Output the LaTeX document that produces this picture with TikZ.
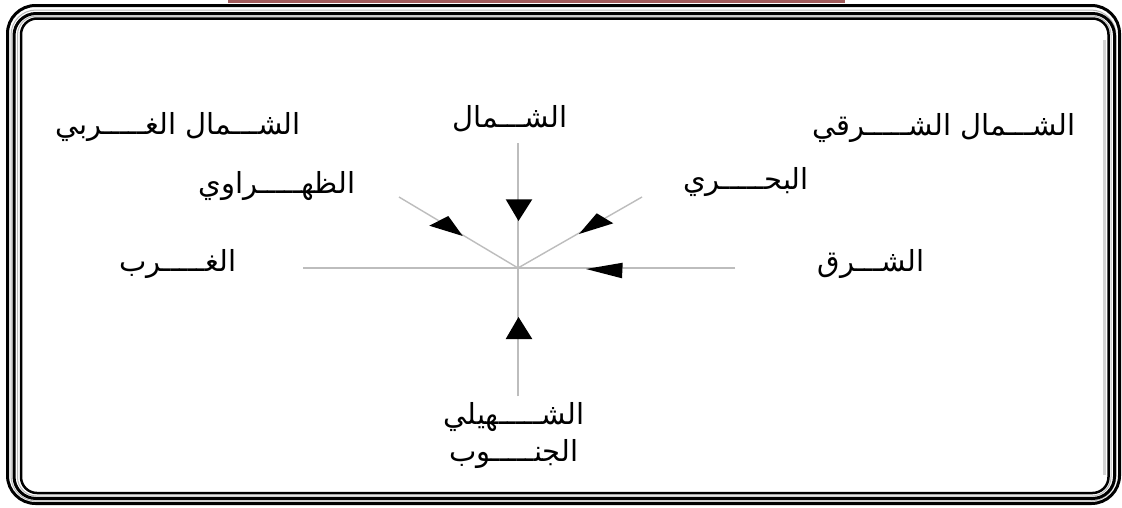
\documentclass[tikz,border=0pt]{standalone}
\usepackage{fontspec}
\newfontfamily\arabicfont[Script=Arabic]{DejaVu Sans}
\TeXXeTstate=1
\definecolor{barred}{HTML}{A05A5A}
\definecolor{axisgray}{HTML}{BDBDBD}
\begin{document}
\begin{tikzpicture}[x=1pt,y=-1pt,
  axis/.style={draw=axisgray,line width=1.4pt},
  head/.style={fill=black},
  lbl/.style={font=\arabicfont\fontsize{29}{34}\selectfont,inner sep=0pt},
  frameblack/.style={draw=black,line width=#1},
  framegray/.style={draw=gray!55,line width=1pt}]
\useasboundingbox (0,0) rectangle (1122,507);
\fill[white] (0,0) rectangle (1122,507);
% top bar
\fill[barred] (228,0) rectangle (845,3);
% frame
\draw[framegray,rounded corners=25] (11,10) rectangle (1116,501);
\draw[framegray,rounded corners=19] (17.5,16) rectangle (1111,496);
\draw[frameblack=3pt,rounded corners=28] (7.5,5.5) rectangle (1119.5,503.5);
\draw[frameblack=3pt,rounded corners=22] (14,13.5) rectangle (1114.5,498.5);
\draw[frameblack=2.5pt,rounded corners=16] (21,18.5) rectangle (1108.5,493);
\draw[gray!35,line width=3pt] (1104.5,40) -- (1104.5,475);
% coordinates
\coordinate (C) at (518,268);
\coordinate (Nend) at (518,143);
\coordinate (Send) at (518,396);
\coordinate (Wend) at (303,268);
\coordinate (Eend) at (735,268);
\coordinate (NWend) at (399,197);
\coordinate (NEend) at (642,197);
% axes
\draw[axis] (Nend) -- (C);
\draw[axis] (Send) -- (C);
\draw[axis] (Wend) -- (C);
\draw[axis] (Eend) -- (C);
\draw[axis] (NWend) -- (C);
\draw[axis] (NEend) -- (C);
% arrow heads
\fill[head] (505.7,199.3) -- (532.3,199.3) -- (518.5,221) -- cycle;
\fill[head] (518.5,317) -- (505.7,339) -- (532.3,339) -- cycle;
\fill[head] (429.3,225.7) -- (448.3,216) -- (462.7,236) -- cycle;
\fill[head] (579,234) -- (596.7,213.3) -- (613.3,223.3) -- cycle;
\fill[head] (586,269) -- (622.7,262.7) -- (622,278.3) -- cycle;
% labels
\node[lbl] (nw) at (178,127) {\beginR الشـــمال الغـــــربي\endR};
\node[lbl] (dh) at (277,186) {\beginR الظهـــــراوي\endR};
\node[lbl] (n) at (510,119) {\beginR الشـــمال\endR};
\node[lbl] (ne) at (944,128) {\beginR الشـــمال الشـــــرقي\endR};
\node[lbl] (bh) at (746,182) {\beginR البحـــــري\endR};
\node[lbl] (w) at (178,264) {\beginR الغـــــرب\endR};
\node[lbl] (e) at (871,264) {\beginR الشـــرق\endR};
\node[lbl] (sh) at (514,417) {\beginR الشـــــهيلي\endR};
\node[lbl] (s) at (514,454) {\beginR الجنـــــوب\endR};
\end{tikzpicture}
\end{document}
